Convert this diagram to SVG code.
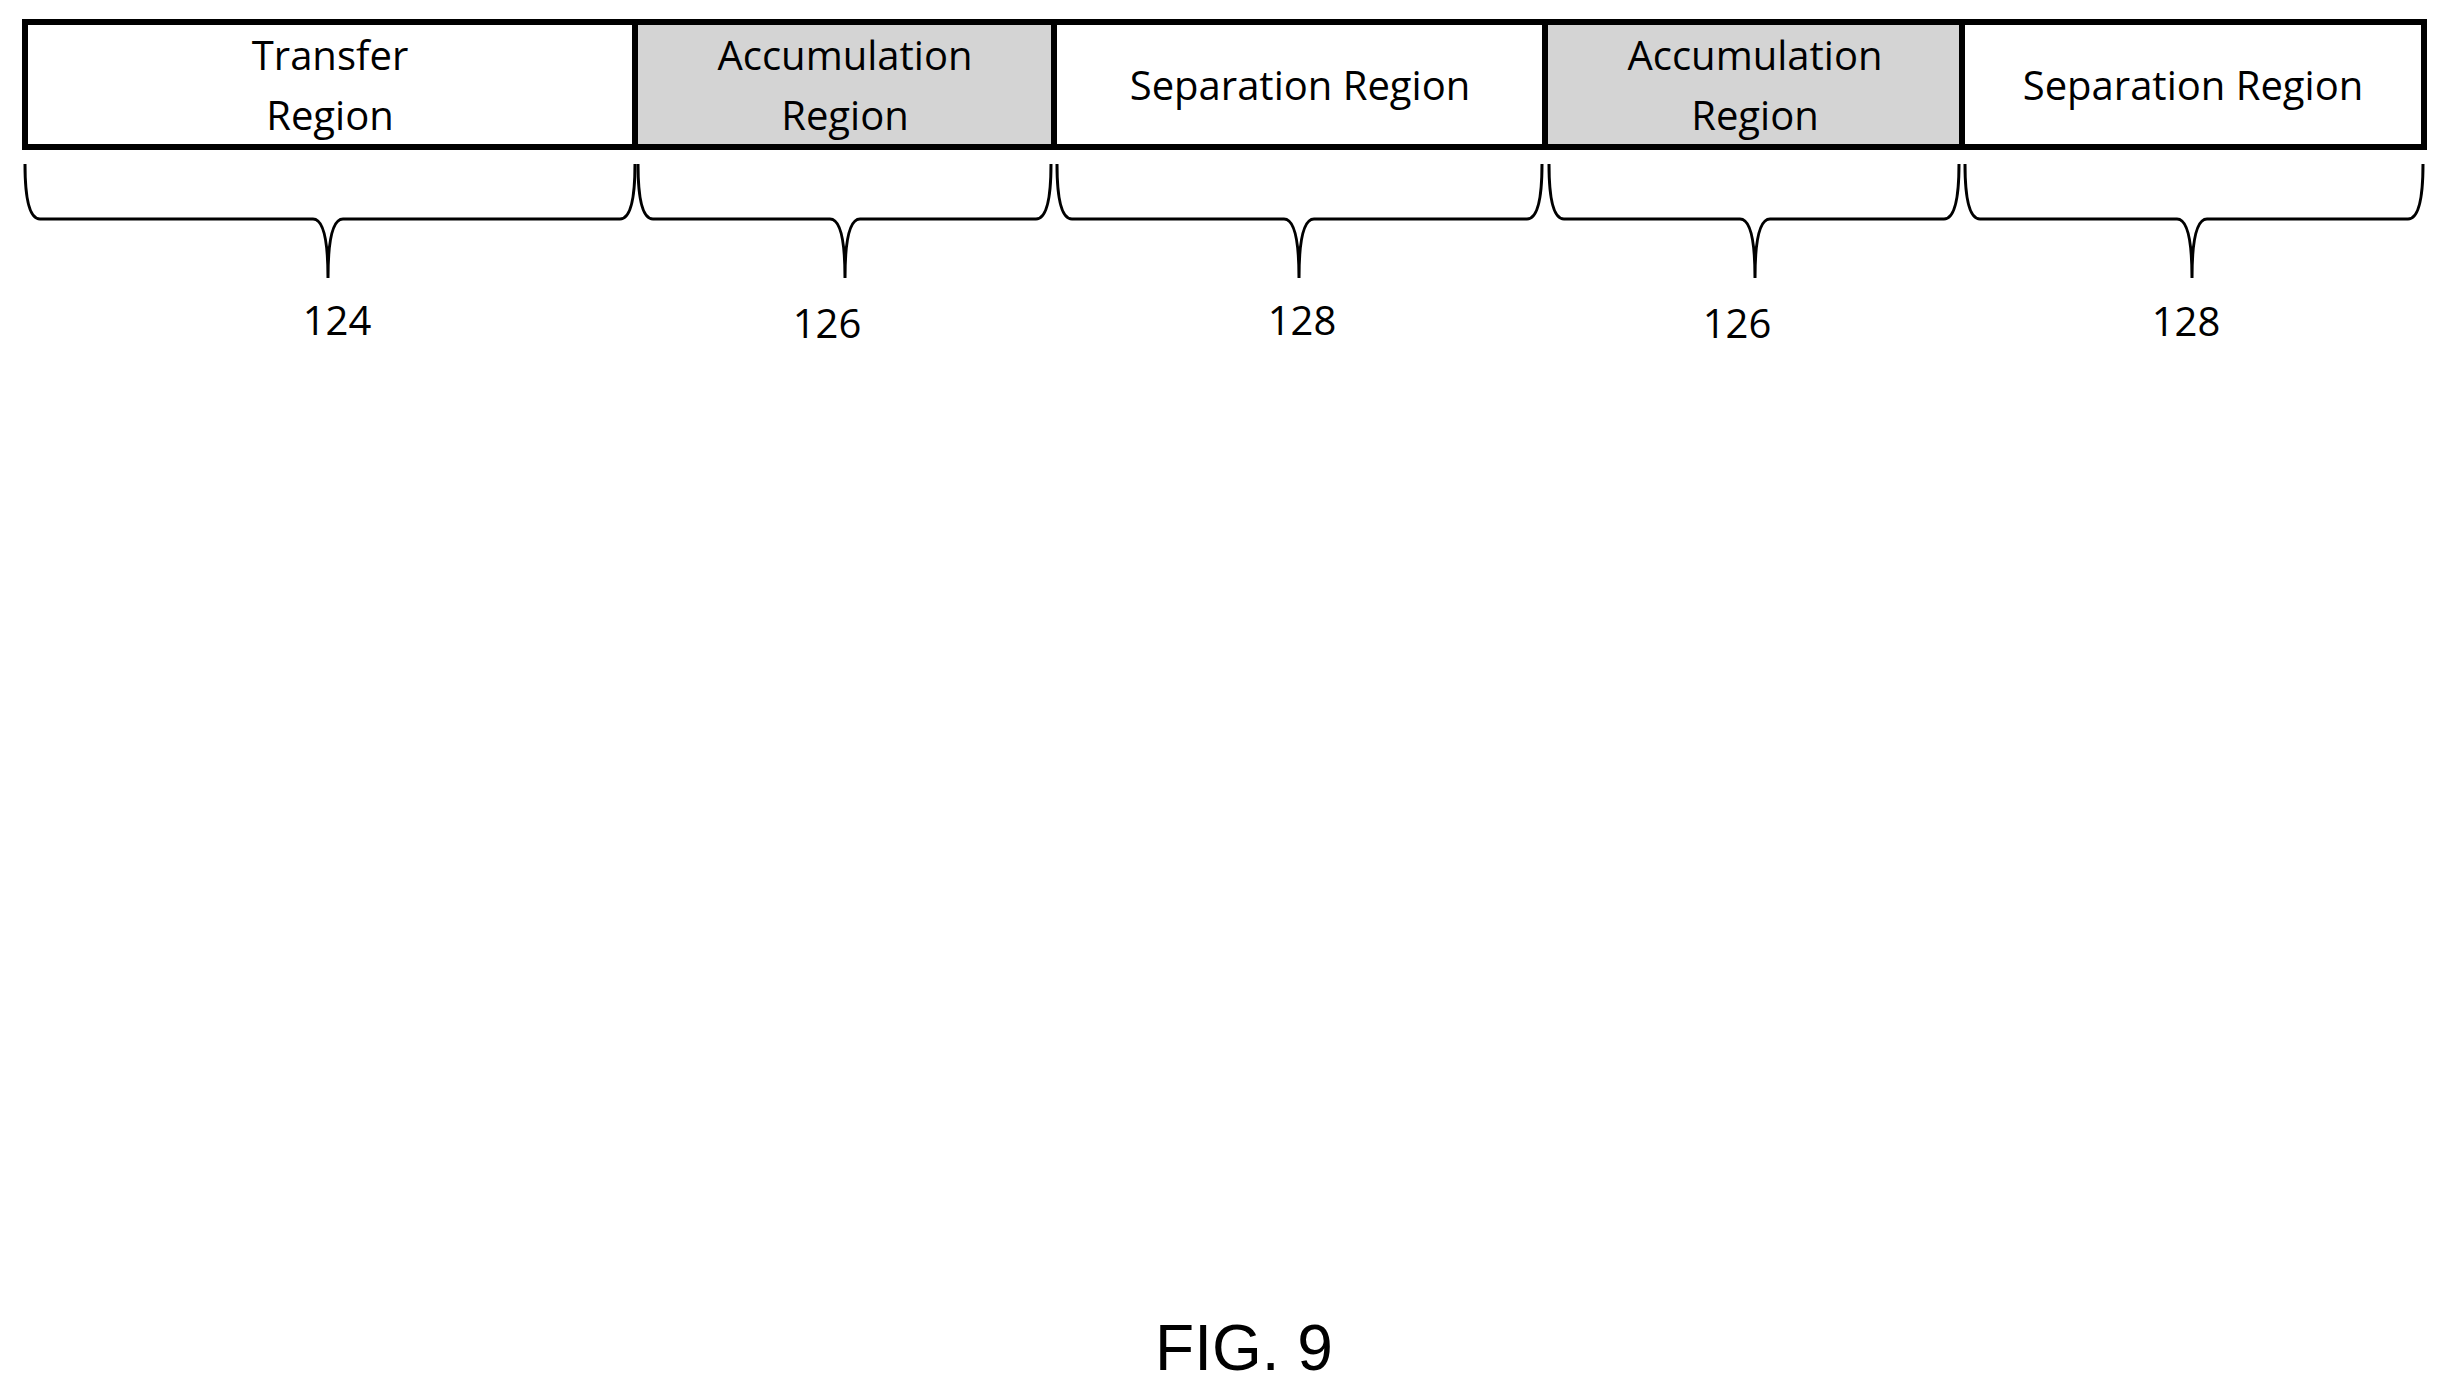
<svg xmlns="http://www.w3.org/2000/svg" width="2448" height="1393" viewBox="0 0 2448 1393">
<style>
.t{font-family:"Open Sans","Liberation Sans",sans-serif;font-size:40px;text-anchor:middle;fill:#000}
.b{fill:none;stroke:#000;stroke-width:3}
.c{stroke:#000;stroke-width:6}
</style>
<rect width="2448" height="1393" fill="#fff"/>
<g id="transfer"><rect class="c" x="25" y="22" width="610" height="125" fill="#fff"/><text class="t" x="330" y="70">Transfer</text><text class="t" x="330" y="130">Region</text></g>
<g id="accum1"><rect class="c" x="635" y="22" width="419" height="125" fill="#d4d4d4"/><text class="t" x="845" y="70">Accumulation</text><text class="t" x="845" y="130">Region</text></g>
<g id="sep1"><rect class="c" x="1054" y="22" width="491" height="125" fill="#fff"/><text class="t" x="1300" y="100">Separation Region</text></g>
<g id="accum2"><rect class="c" x="1545" y="22" width="417" height="125" fill="#d4d4d4"/><text class="t" x="1755" y="70">Accumulation</text><text class="t" x="1755" y="130">Region</text></g>
<g id="sep2"><rect class="c" x="1962" y="22" width="462" height="125" fill="#fff"/><text class="t" x="2193" y="100">Separation Region</text></g>
<g id="braces">
<path class="b" d="M25,164 Q25,219 40,219 L313,219 Q328,219 328,278 Q328,219 343,219 L620,219 Q635,219 635,164"/>
<path class="b" d="M638,164 Q638,219 653,219 L830,219 Q845,219 845,278 Q845,219 860,219 L1036,219 Q1051,219 1051,164"/>
<path class="b" d="M1057,164 Q1057,219 1072,219 L1284,219 Q1299,219 1299,278 Q1299,219 1314,219 L1527,219 Q1542,219 1542,164"/>
<path class="b" d="M1549,164 Q1549,219 1564,219 L1740,219 Q1755,219 1755,278 Q1755,219 1770,219 L1944,219 Q1959,219 1959,164"/>
<path class="b" d="M1965,164 Q1965,219 1980,219 L2177,219 Q2192,219 2192,278 Q2192,219 2207,219 L2408,219 Q2423,219 2423,164"/>
</g>
<g id="labels">
<text class="t" x="337" y="335">124</text>
<text class="t" x="827" y="338">126</text>
<text class="t" x="1302" y="335">128</text>
<text class="t" x="1737" y="338">126</text>
<text class="t" x="2186" y="336">128</text>
</g>
<text x="1244" y="1370" style="font-family:'Liberation Sans',Arial,sans-serif;font-size:64px;text-anchor:middle">FIG. 9</text>
</svg>
